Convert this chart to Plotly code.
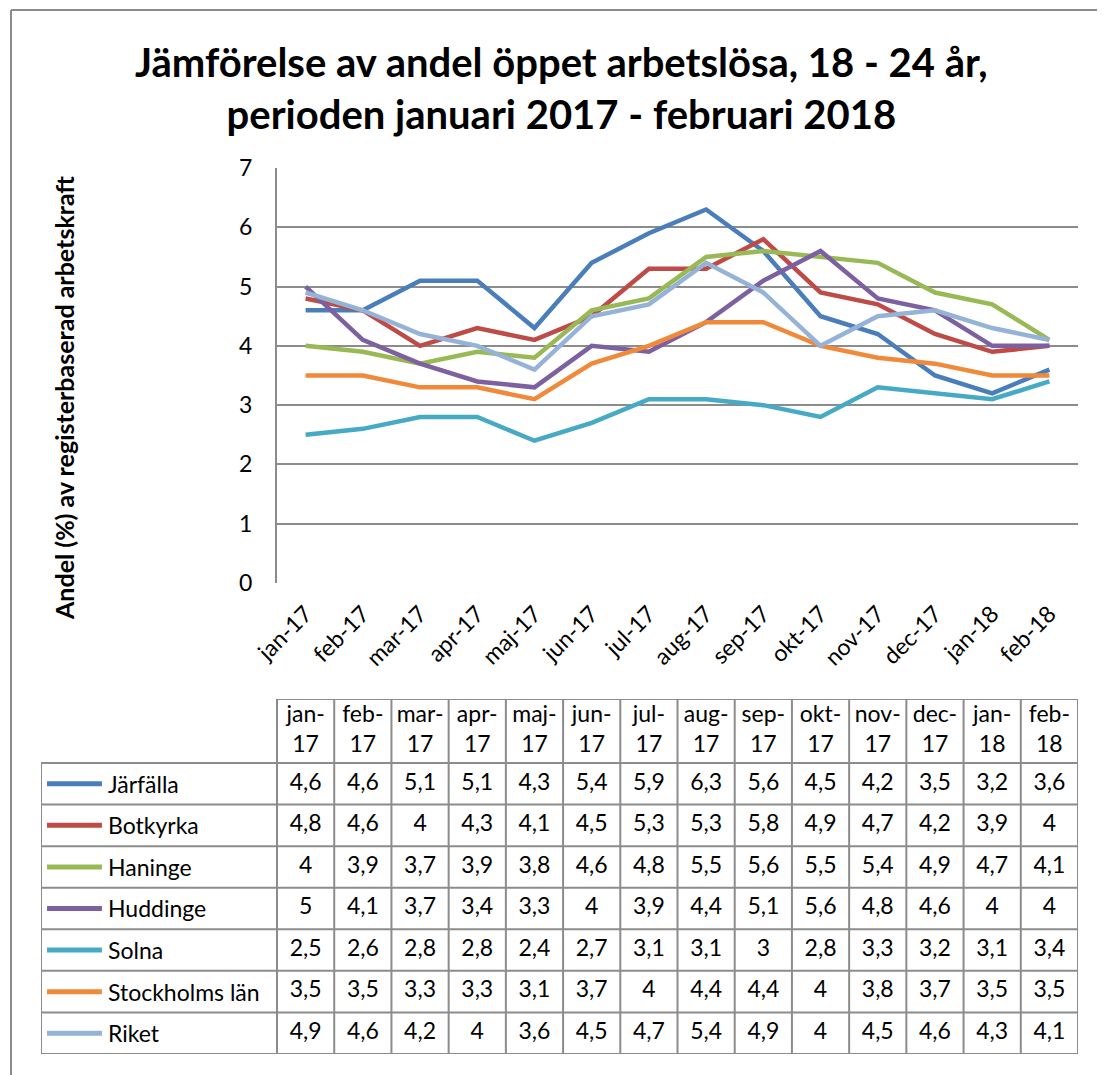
import plotly.graph_objects as go

months = ["jan-17", "feb-17", "mar-17", "apr-17", "maj-17", "jun-17", "jul-17",
          "aug-17", "sep-17", "okt-17", "nov-17", "dec-17", "jan-18", "feb-18"]

series_names = ["Järfälla", "Botkyrka", "Haninge", "Huddinge", "Solna",
                "Stockholms län", "Riket"]

jarfalla = [4.6, 4.6, 5.1, 5.1, 4.3, 5.4, 5.9, 6.3, 5.6, 4.5, 4.2, 3.5, 3.2, 3.6]
botkyrka = [4.8, 4.6, 4.0, 4.3, 4.1, 4.5, 5.3, 5.3, 5.8, 4.9, 4.7, 4.2, 3.9, 4.0]
haninge = [4.0, 3.9, 3.7, 3.9, 3.8, 4.6, 4.8, 5.5, 5.6, 5.5, 5.4, 4.9, 4.7, 4.1]
huddinge = [5.0, 4.1, 3.7, 3.4, 3.3, 4.0, 3.9, 4.4, 5.1, 5.6, 4.8, 4.6, 4.0, 4.0]
solna = [2.5, 2.6, 2.8, 2.8, 2.4, 2.7, 3.1, 3.1, 3.0, 2.8, 3.3, 3.2, 3.1, 3.4]
stockholms_lan = [3.5, 3.5, 3.3, 3.3, 3.1, 3.7, 4.0, 4.4, 4.4, 4.0, 3.8, 3.7, 3.5, 3.5]
riket = [4.9, 4.6, 4.2, 4.0, 3.6, 4.5, 4.7, 5.4, 4.9, 4.0, 4.5, 4.6, 4.3, 4.1]

series_values = [jarfalla, botkyrka, haninge, huddinge, solna, stockholms_lan, riket]
colors = ["#4A7EBB", "#BE4B48", "#98B954", "#7D60A0", "#46AAC5", "#F08A3A", "#95B3D7"]

FONT = "Lato"
OFF = 8                      # page body margin around the plot div
W, H = 1105 - OFF, 1075 - OFF
GRID = "#8C8C8C"

# page pixel -> paper fraction
def px_x(x):
    return (x - OFF) / W

def px_y(y):
    return (H - (y - OFF)) / H

fig = go.Figure()

# chart lines
for name, vals, col in zip(series_names, series_values, colors):
    fig.add_trace(go.Scatter(x=months, y=vals, mode="lines", name=name,
                             line=dict(color=col, width=4.5),
                             showlegend=False, xaxis="x", yaxis="y"))

# data table below (x2/y2: one unit per column / row)
n_rows = len(series_names)
header_h = 64 / 41.57
top = -0.5 - header_h
left = -0.5 - (277 - 41) / 57.21
TXT = dict(family=FONT, size=23, color="#000000")

fig.add_trace(go.Scatter(
    x=list(range(len(months))), y=[-0.5 - header_h / 2] * len(months),
    text=[m.replace("-", "-<br>") for m in months], mode="text",
    textfont=TXT, showlegend=False, hoverinfo="skip", xaxis="x2", yaxis="y2"))

for r, vals in enumerate(series_values):
    fig.add_trace(go.Scatter(
        x=list(range(len(vals))), y=[r] * len(vals),
        text=[f"{v:g}".replace(".", ",") for v in vals], mode="text",
        textfont=TXT, showlegend=False, hoverinfo="skip", xaxis="x2", yaxis="y2"))
    # legend key in the table
    fig.add_trace(go.Scatter(
        x=[-4.52, -3.56], y=[r, r], mode="lines",
        line=dict(color=colors[r], width=5),
        showlegend=False, hoverinfo="skip", xaxis="x2", yaxis="y2"))
    fig.add_annotation(x=-3.49, y=r, xref="x2", yref="y2", text=series_names[r],
                       showarrow=False, xanchor="left", yanchor="middle", font=TXT)

shapes = []
line_style = dict(color=GRID, width=2)
for c in range(len(months) + 1):
    shapes.append(dict(type="line", xref="x2", yref="y2", x0=c - 0.5, x1=c - 0.5,
                       y0=top, y1=n_rows - 0.5, line=line_style))
shapes.append(dict(type="line", xref="x2", yref="y2", x0=left, x1=left,
                   y0=-0.5, y1=n_rows - 0.5, line=line_style))
shapes.append(dict(type="line", xref="x2", yref="y2", x0=-0.5, x1=len(months) - 0.5,
                   y0=top, y1=top, line=line_style))
for r in range(n_rows + 1):
    shapes.append(dict(type="line", xref="x2", yref="y2", x0=left, x1=len(months) - 0.5,
                       y0=r - 0.5, y1=r - 0.5, line=line_style))
# outer chart border (only left and top are inside the picture)
shapes.append(dict(type="line", xref="paper", yref="paper",
                   x0=px_x(11), x1=px_x(11), y0=0, y1=px_y(10),
                   line=dict(color="#8C8C8C", width=2)))
shapes.append(dict(type="line", xref="paper", yref="paper",
                   x0=px_x(11), x1=1, y0=px_y(10), y1=px_y(10),
                   line=dict(color="#8C8C8C", width=2)))

fig.update_layout(
    width=W, height=H,
    margin=dict(l=0, r=0, t=0, b=0),
    paper_bgcolor="white", plot_bgcolor="white",
    font=dict(family=FONT, color="#000000"),
    shapes=shapes,
    xaxis=dict(domain=[px_x(277), px_x(1078)], type="category", automargin=False,
               range=[-0.5, len(months) - 0.5],
               tickangle=-45, tickfont=dict(size=23), ticklabelstandoff=12,
               showgrid=False, showline=False, zeroline=False, ticks=""),
    yaxis=dict(domain=[px_y(583), px_y(168)], range=[0, 7], dtick=1, automargin=False,
               tickfont=dict(size=23), ticklabelstandoff=18,
               showgrid=True, gridcolor=GRID, gridwidth=2,
               showline=True, linecolor=GRID, linewidth=2,
               zeroline=False, ticks=""),
    xaxis2=dict(domain=[px_x(41), px_x(1078)], range=[left, len(months) - 0.5],
                visible=False, anchor="y2"),
    yaxis2=dict(domain=[px_y(1054), px_y(699)], range=[n_rows - 0.5, top],
                visible=False, anchor="x2"),
)

fig.add_annotation(
    x=px_x(561), y=px_y(88), xref="paper", yref="paper", showarrow=False,
    xanchor="center", yanchor="middle",
    text="Jämförelse av andel öppet arbetslösa, 18 - 24 år,<br>perioden januari 2017 - februari 2018",
    font=dict(family=FONT, size=40, color="#000000", weight="bold"))

fig.add_annotation(
    x=px_x(64), y=px_y(398), xref="paper", yref="paper", showarrow=False,
    xanchor="center", yanchor="middle",
    textangle=-90, text="Andel (%) av registerbaserad arbetskraft",
    font=dict(family=FONT, size=25, color="#000000", weight="bold"))

fig.write_html("out.html")
